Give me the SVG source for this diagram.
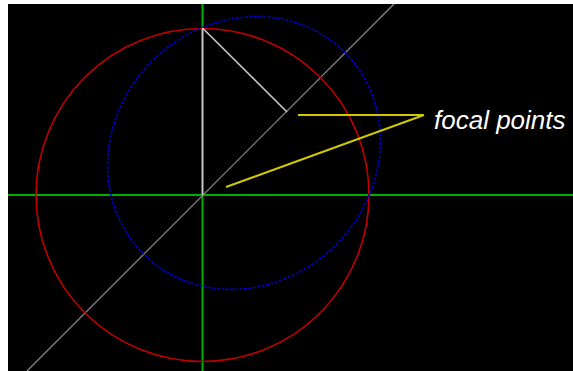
<svg xmlns="http://www.w3.org/2000/svg" width="573" height="371" viewBox="0 0 573 371">
  <style>
    .axis { stroke: #00b000; stroke-width: 2; fill: none; }
    .diag { stroke: #8a8a8a; stroke-width: 1.2; fill: none; }
    .white { stroke: #c8c8c8; stroke-width: 1.6; fill: none; }
    .circle { stroke: #c00000; stroke-width: 1.6; fill: none; }
    .ellipse { stroke: #0000c8; stroke-width: 1.6; fill: none; stroke-dasharray: 3 1.5; }
    .pointer { stroke: #d0c800; stroke-width: 2; fill: none; }
    .label { fill: #ffffff; font-family: "Liberation Sans", Arial, sans-serif; font-style: italic; font-size: 26px; }
  </style>
  <rect x="0" y="0" width="573" height="371" fill="#ffffff"/>
  <rect x="8" y="4" width="565" height="367" fill="#000000"/>
  <g id="axes">
    <line class="axis" x1="8" y1="195" x2="573" y2="195"/>
    <line class="axis" x1="202.5" y1="4" x2="202.5" y2="371"/>
  </g>
  <g id="diagonal">
    <line class="diag" x1="27" y1="371" x2="394" y2="4"/>
  </g>
  <g id="circle">
    <circle class="circle" cx="202.5" cy="195" r="166.5"/>
  </g>
  <g id="ellipse">
    <ellipse class="ellipse" cx="0" cy="0" rx="142.5" ry="130" transform="translate(244 153) rotate(-45)"/>
  </g>
  <g id="construction">
    <line class="white" x1="202.5" y1="28" x2="202.5" y2="195"/>
    <line class="white" x1="202.5" y1="28" x2="287" y2="112"/>
  </g>
  <g id="connectors">
    <line class="pointer" x1="298" y1="115" x2="424" y2="115"/>
    <line class="pointer" x1="226" y1="187" x2="424" y2="115"/>
  </g>
  <g id="label">
    <text class="label" x="434" y="129">focal points</text>
  </g>
</svg>
